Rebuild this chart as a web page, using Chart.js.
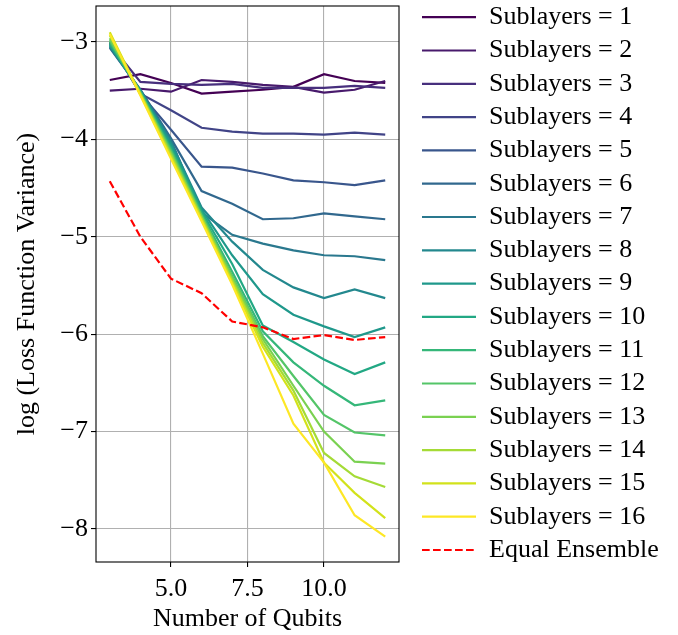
<!DOCTYPE html>
<html><head><meta charset="utf-8">
<script src="https://cdn.jsdelivr.net/npm/chart.js@4/dist/chart.umd.min.js"></script>
<style>html,body{margin:0;padding:0;background:#fff;}#wrap{width:678px;height:635px;}</style>
</head><body><div id="wrap"><canvas id="c" width="678" height="635"></canvas></div>
<script>
const qubits = [3, 4, 5, 6, 7, 8, 9, 10, 11, 12];
const sub1  = [-3.39, -3.33, -3.42, -3.53, -3.51, -3.49, -3.46, -3.33, -3.40, -3.42];
const sub2  = [-3.50, -3.48, -3.51, -3.39, -3.41, -3.44, -3.46, -3.52, -3.49, -3.40];
const sub3  = [-3.02, -3.41, -3.43, -3.44, -3.43, -3.47, -3.47, -3.47, -3.45, -3.47];
const sub4  = [-3.00, -3.53, -3.70, -3.88, -3.92, -3.94, -3.94, -3.95, -3.93, -3.95];
const sub5  = [-3.01, -3.53, -3.90, -4.28, -4.29, -4.35, -4.42, -4.44, -4.47, -4.42];
const sub6  = [-3.06, -3.49, -3.99, -4.53, -4.66, -4.82, -4.81, -4.76, -4.79, -4.82];
const sub7  = [-3.05, -3.49, -4.01, -4.75, -4.98, -5.07, -5.14, -5.19, -5.20, -5.24];
const sub8  = [-3.04, -3.50, -4.03, -4.70, -5.05, -5.34, -5.52, -5.63, -5.54, -5.63];
const sub9  = [-3.03, -3.50, -4.05, -4.72, -5.19, -5.59, -5.80, -5.92, -6.03, -5.93];
const sub10 = [-3.02, -3.51, -4.08, -4.74, -5.28, -5.91, -6.08, -6.26, -6.41, -6.29];
const sub11 = [-3.00, -3.51, -4.10, -4.76, -5.36, -5.97, -6.29, -6.53, -6.73, -6.68];
const sub12 = [-2.98, -3.52, -4.12, -4.78, -5.40, -6.02, -6.43, -6.83, -7.01, -7.04];
const sub13 = [-2.96, -3.53, -4.14, -4.79, -5.42, -6.05, -6.53, -7.00, -7.31, -7.33];
const sub14 = [-2.93, -3.53, -4.16, -4.81, -5.45, -6.09, -6.58, -7.22, -7.46, -7.57];
const sub15 = [-2.90, -3.54, -4.18, -4.82, -5.47, -6.13, -6.63, -7.32, -7.63, -7.89];
const sub16 = [-2.92, -3.55, -4.20, -4.84, -5.49, -6.20, -6.92, -7.32, -7.86, -8.08];
const ensemble = [-4.43, -5.00, -5.43, -5.58, -5.87, -5.93, -6.05, -6.01, -6.06, -6.03];

const subSeries = [sub1, sub2, sub3, sub4, sub5, sub6, sub7, sub8, sub9, sub10, sub11, sub12, sub13, sub14, sub15, sub16];
const subLabels = subSeries.map((_, i) => 'Sublayers = ' + (i + 1));
const ensembleLabel = 'Equal Ensemble';
const xTicks = [5, 7.5, 10];
const yTicks = [-3, -4, -5, -6, -7, -8];

const viridis = ['#440154','#481a6c','#472f7d','#414487','#39568c','#31688e','#2a788e','#23888e',
                 '#1f988b','#22a884','#35b779','#54c568','#7ad151','#a5db36','#d2e21b','#fde725'];

const FONT = "'Liberation Serif', 'Times New Roman', serif";
const FS = 26;
const LW = 2.2;
const N = subSeries.length + 1;

const datasets = subSeries.map((s, i) => ({
  label: subLabels[i],
  data: qubits.map((q, j) => ({x: q, y: s[j]})),
  borderColor: viridis[i],
  backgroundColor: viridis[i],
  borderWidth: LW,
  pointRadius: 0,
  tension: 0,
  fill: false,
  order: N - i
}));
datasets.push({
  label: ensembleLabel,
  data: qubits.map((q, j) => ({x: q, y: ensemble[j]})),
  borderColor: '#ff0000',
  backgroundColor: '#ff0000',
  borderWidth: LW,
  borderDash: [7.7, 3.3],
  pointRadius: 0,
  tension: 0,
  fill: false,
  order: 0
});

const PLOT_RIGHT = 399;
const frameAndLegend = {
  id: 'frameAndLegend',
  beforeLayout(chart) {
    const lg = chart.legend;
    if (lg && !lg._patched) {
      const orig = lg.fit;
      lg.fit = function () { orig.call(this); this.width = chart.width - PLOT_RIGHT; };
      lg._patched = true;
    }
  },
  afterLayout(chart) {
    const lg = chart.legend;
    if (lg) {
      const pad = lg.options.labels.padding;
      lg.left = 422 - pad;
      lg.top = 17.2 - pad - FS / 2;
    }
  },
  afterDraw(chart) {
    const {ctx, chartArea: a} = chart;
    ctx.save();
    ctx.strokeStyle = '#000';
    ctx.lineWidth = 1.1;
    ctx.strokeRect(a.left, a.top, a.right - a.left, a.bottom - a.top);
    ctx.restore();
  }
};

new Chart(document.getElementById('c'), {
  type: 'line',
  data: {datasets},
  options: {
    responsive: false,
    animation: false,
    devicePixelRatio: 1,
    layout: {padding: {left: 0, right: 0, top: 6, bottom: 0}},
    plugins: {
      tooltip: {enabled: false},
      legend: {
        position: 'right',
        align: 'start',
        labels: {
          usePointStyle: true,
          pointStyle: 'line',
          pointStyleWidth: 54,
          boxHeight: FS,
          padding: 33.3 - FS,
          color: '#000',
          font: {family: FONT, size: FS},
          sort: (a, b) => a.datasetIndex - b.datasetIndex,
          generateLabels: chart => {
            const items = Chart.defaults.plugins.legend.labels.generateLabels(chart);
            return items.map(it => {
              const ds = chart.data.datasets[it.datasetIndex];
              it.lineWidth = ds.borderWidth;
              it.strokeStyle = ds.borderColor;
              it.lineDash = ds.borderDash || [];
              return it;
            });
          }
        }
      }
    },
    scales: {
      x: {
        type: 'linear',
        min: 2.55, max: 12.45,
        afterBuildTicks: s => { s.ticks = xTicks.map(v => ({value: v})); },
        afterFit: s => { s.height = 73; s.paddingLeft = 0; s.paddingRight = 0; },
        ticks: {color: '#000', font: {family: FONT, size: FS}, padding: 7, maxRotation: 0,
                callback: v => Number(v).toFixed(1)},
        grid: {color: '#b0b0b0', lineWidth: 1.1, tickColor: '#000', tickLength: 5, drawTicks: true},
        border: {display: false},
        title: {display: true, text: 'Number of Qubits', color: '#000', font: {family: FONT, size: FS}, padding: {top: 0, bottom: 0}}
      },
      y: {
        type: 'linear',
        min: -8.34, max: -2.63,
        afterBuildTicks: s => { s.ticks = yTicks.map(v => ({value: v})); },
        afterFit: s => { s.width = 96; s.paddingTop = 0; s.paddingBottom = 0; },
        ticks: {color: '#000', font: {family: FONT, size: FS}, padding: 3,
                callback: v => (v < 0 ? '\u2212' : '') + Math.abs(v)},
        grid: {color: '#b0b0b0', lineWidth: 1.1, tickColor: '#000', tickLength: 5, drawTicks: true},
        border: {display: false},
        title: {display: true, text: 'log (Loss Function Variance)', color: '#000', font: {family: FONT, size: FS}, padding: {top: 12, bottom: 0}}
      }
    }
  },
  plugins: [frameAndLegend]
});
</script></body></html>
